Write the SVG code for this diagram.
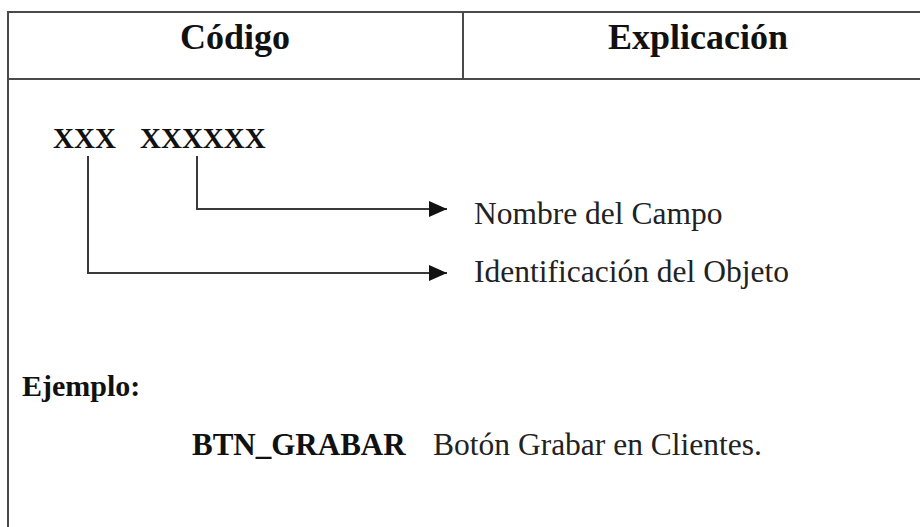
<svg xmlns="http://www.w3.org/2000/svg" width="920" height="527" viewBox="0 0 920 527">
  <style>
    .rule { stroke: #4a4a4a; stroke-width: 2; fill: none; }
    .conn { stroke: #3a3a3a; stroke-width: 2; fill: none; }
    .hdr { font-family: "Liberation Serif", "Times New Roman", serif; font-weight: bold; font-size: 36px; fill: #111; }
    .code { font-family: "Liberation Serif", "Times New Roman", serif; font-weight: bold; font-size: 29px; fill: #111; }
    .lbl { font-family: "Liberation Serif", "Times New Roman", serif; font-size: 31.5px; fill: #222; }
  </style>
  <defs>
    <marker id="arrow" markerUnits="userSpaceOnUse" markerWidth="18" markerHeight="16" refX="18" refY="8" orient="auto">
      <path d="M0,0 L18,8 L0,16 Z" fill="#111"/>
    </marker>
  </defs>
  <rect width="920" height="527" fill="#ffffff"/>
  <g id="table">
    <line class="rule" x1="7" y1="12" x2="920" y2="12"/>
    <line class="rule" x1="7" y1="79" x2="920" y2="79"/>
    <line class="rule" x1="8" y1="12" x2="8" y2="527"/>
    <line class="rule" x1="463" y1="12" x2="463" y2="79"/>
  </g>
  <g id="header-codigo">
    <text class="hdr" x="235" y="49" text-anchor="middle">Código</text>
  </g>
  <g id="header-explicacion">
    <text class="hdr" x="698" y="49" text-anchor="middle">Explicación</text>
  </g>
  <g id="code-prefix">
    <text class="code" x="53" y="148">XXX</text>
  </g>
  <g id="code-field">
    <text class="code" x="140" y="148">XXXXXX</text>
  </g>
  <g id="label-nombre">
    <text class="lbl" x="474" y="224">Nombre del Campo</text>
  </g>
  <g id="label-identificacion">
    <text class="lbl" x="474" y="282">Identificación del Objeto</text>
  </g>
  <g id="connectors">
    <polyline class="conn" points="197,156 197,209 447,209" marker-end="url(#arrow)"/>
    <polyline class="conn" points="88,156 88,273 447,273" marker-end="url(#arrow)"/>
  </g>
  <g id="example-title">
    <text class="code" x="22" y="396" style="font-size:30px">Ejemplo:</text>
  </g>
  <g id="example">
    <text class="code" x="192" y="455" style="font-size:31px">BTN_GRABAR</text>
    <text class="lbl" x="433" y="455">Botón Grabar en Clientes.</text>
  </g>
</svg>
